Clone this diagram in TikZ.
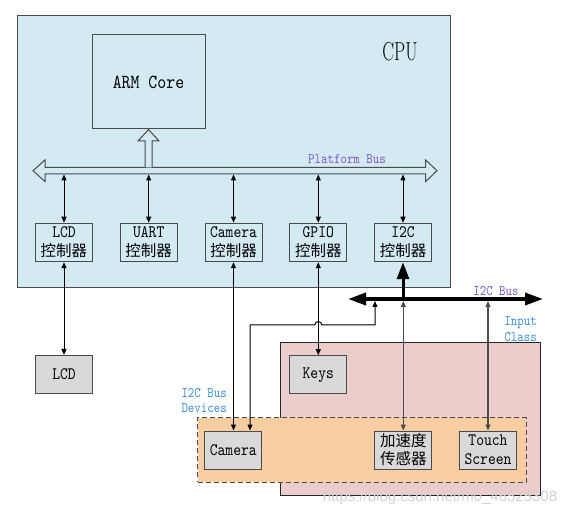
\documentclass[tikz,border=0pt]{standalone}
\usepackage{fontspec}
\newfontfamily\cjk{Noto Sans CJK SC}
\newfontfamily\wmfont{Liberation Sans}
\newfontfamily\nmono[FakeStretch=0.85]{lmmono10-regular.otf}
\usetikzlibrary{arrows.meta}
\definecolor{cpubg}{HTML}{D3EAF2}
\definecolor{pinkbg}{HTML}{ECCDCC}
\definecolor{orangebg}{HTML}{F8CDA1}
\definecolor{devgray}{HTML}{D9D9D9}
\definecolor{buspurple}{HTML}{8057C6}
\definecolor{lblblue}{HTML}{3A8DDA}
\definecolor{edge}{HTML}{4A4A4A}
\tikzset{
  box/.style={draw=edge, line width=1pt, inner sep=0pt, align=center},
  ctrl/.style={box, minimum width=57pt, minimum height=38.5pt, font=\fontsize{17.5}{19}\selectfont\nmono},
  dev/.style={box, fill=devgray, minimum width=57pt, minimum height=38pt, font=\fontsize{17.5}{19}\selectfont\nmono},
  tip/.tip={Triangle[length=6pt,width=5pt]},
  link/.style={line width=1pt, tip-tip},
  glink/.style={line width=1.3pt, draw=black!70, tip-tip},
  buslbl/.style={text=buspurple, font=\fontsize{14.5}{15}\selectfont\nmono, inner sep=0pt},
  grplbl/.style={text=lblblue, font=\fontsize{14.5}{15.7}\selectfont\nmono, inner sep=0pt, align=right},
}
\newcommand{\cj}[1]{{\cjk\fontsize{15.5}{19}\selectfont #1}}
\begin{document}
\begin{tikzpicture}[x=1pt,y=-1pt]
\useasboundingbox (0,0) rectangle (574,516);
% CPU
\node[box, fill=cpubg, minimum width=433pt, minimum height=272pt] (cpu) at (233.5,152) {};
\node[inner sep=0pt] (cpulbl) at (400,52) {\fontsize{26}{26}\selectfont\scalebox{0.68}[1]{CPU}};
\node[box, minimum width=113pt, minimum height=94pt, font=\fontsize{20}{20}\selectfont\nmono] (arm) at (148.5,82) {ARM Core};
% platform bus
\draw[edge, line width=1pt, fill=cpubg] (33,170.7) -- (45,160) -- (45,167.3) -- (425.7,167.3) -- (425.7,160) -- (437,170.7) -- (425.7,181.5) -- (425.7,174) -- (45,174) -- (45,181.5) -- cycle;
\draw[edge, line width=1pt, fill=cpubg] (145,167.3) -- (145,141) -- (138,141) -- (arm.south) -- (159,141) -- (152,141) -- (152,167.3);
\node[buslbl] (pblbl) at (347,159) {Platform Bus};
\coordinate (pbb) at (0,174.5);
% controllers
\node[ctrl] (lcdc) at (64,242.5) {LCD\\\cj{控制器}};
\node[ctrl] (uartc) at (148.7,242.5) {UART\\\cj{控制器}};
\node[ctrl] (camc) at (233.5,242.5) {Camera\\\cj{控制器}};
\node[ctrl] (gpioc) at (318.3,242.5) {GPIO\\\cj{控制器}};
\node[ctrl] (i2cc) at (403,242.5) {I2C\\\cj{控制器}};
\foreach \n in {lcdc,uartc,camc,gpioc,i2cc}
  \draw[link] (\n.north |- pbb) -- (\n.north);
% groups
\node[box, draw=black!85, fill=pinkbg, minimum width=260.4pt, minimum height=152.3pt] (inputcls) at (410.5,418.85) {};
\node[box, dashed, dash pattern=on 5pt off 3pt, draw=edge, fill=orangebg, minimum width=328.3pt, minimum height=64.6pt] (i2cdev) at (361.85,450) {};
\node[grplbl, anchor=east] (inlbl) at (537,329) {Input\\Class};
\node[grplbl, anchor=east] (devlbl) at (227,400.5) {I2C Bus\\Devices};
% devices
\node[dev] (lcd) at (64,374.5) {LCD};
\node[dev] (keys) at (318.3,374.7) {Keys};
\node[dev] (cam) at (233.3,450) {Camera};
\node[dev] (accel) at (403.3,450) {\cj{加速度}\\[-1pt]\cj{传感器}};
\node[dev] (touch) at (488,450) {Touch\\Screen};
% I2C bus
\coordinate (i2cL) at (348,299);
\coordinate (i2cR) at (543,299);
\coordinate (busb) at (0,301);
\draw[line width=3.5pt, {Triangle[length=18pt,width=12pt]}-{Triangle[length=18pt,width=12pt]}] (i2cL) -- (i2cR);
\node[buslbl] (i2clbl) at (496,291) {I2C Bus};
\draw[line width=3pt, -{Triangle[length=17pt,width=12pt]}] (i2cc.south |- i2cL) -- (i2cc.south);
% links
\draw[link] (lcdc.south) -- (lcd.north);
\draw[link] (camc.south) -- (cam.north -| camc.south);
\draw[link] (gpioc.south) -- (keys.north);
\draw[link] (cam.north -| 250,0) -- (250,325) -- (314.8,325) arc[start angle=180, end angle=0, radius=3.5pt] -- (375,325) -- (375,301);
\draw[glink] (accel.north) -- (accel.north |- busb);
\draw[glink] (touch.north) -- (touch.north |- busb);
% watermark
\node[text=black!18, font=\wmfont\fontsize{15}{15}\selectfont, inner sep=0pt] (wm) at (440,498) {https://blog.csdn.net/m0\_46525308};
\end{tikzpicture}
\end{document}
